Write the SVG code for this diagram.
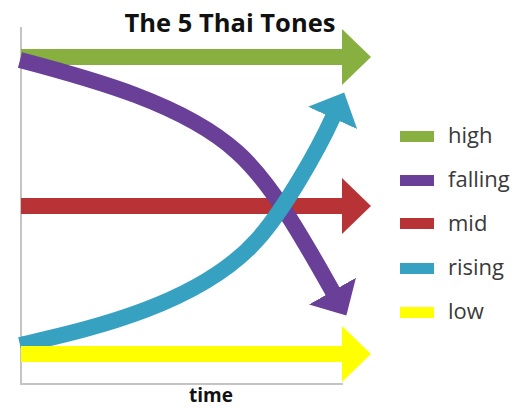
<svg xmlns="http://www.w3.org/2000/svg" width="515" height="408" viewBox="0 0 515 408">
  <style>
    .axis { stroke: #c4c4c4; stroke-width: 2; fill: none; }
    .tone { fill: none; stroke-width: 16; stroke-linecap: butt; }
    .title { font-family: "Open Sans", "DejaVu Sans", sans-serif; font-weight: bold; font-size: 25.5px; fill: #111; }
    .axlabel { font-family: "Open Sans", "DejaVu Sans", sans-serif; font-weight: bold; font-size: 19px; fill: #111; }
    .legend { font-family: "Open Sans", "DejaVu Sans", sans-serif; font-size: 22px; fill: #3a3a3a; }
    .green { stroke: #87b040; }
    .purple { stroke: #6a3f98; }
    .red { stroke: #b83336; }
    .cyan { stroke: #36a1c0; }
    .yellow { stroke: #ffff00; }
  </style>
  <defs>
    <marker id="hGreen" markerUnits="userSpaceOnUse" markerWidth="30" markerHeight="56" viewBox="0 0 30 56" refX="1" refY="28" orient="auto"><path d="M0,0 L29,28 L0,56 Z" fill="#87b040"/></marker>
    <marker id="hPurple" markerUnits="userSpaceOnUse" markerWidth="30" markerHeight="56" viewBox="0 0 30 56" refX="1" refY="28" orient="auto"><path d="M0,1 L28,28 L0,55 Z" fill="#6a3f98"/></marker>
    <marker id="hRed" markerUnits="userSpaceOnUse" markerWidth="30" markerHeight="56" viewBox="0 0 30 56" refX="1" refY="28" orient="auto"><path d="M0,0 L29,28 L0,56 Z" fill="#b83336"/></marker>
    <marker id="hCyan" markerUnits="userSpaceOnUse" markerWidth="30" markerHeight="56" viewBox="0 0 30 56" refX="1" refY="28" orient="auto"><path d="M0,1 L28,28 L0,55 Z" fill="#36a1c0"/></marker>
    <marker id="hYellow" markerUnits="userSpaceOnUse" markerWidth="30" markerHeight="56" viewBox="0 0 30 56" refX="1" refY="28" orient="auto"><path d="M0,0 L29,28 L0,56 Z" fill="#ffff00"/></marker>
  </defs>

  <g id="title">
    <text class="title" x="230" y="32" text-anchor="middle">The 5 Thai Tones</text>
  </g>

  <g id="axes">
    <path class="axis" d="M21,27 L21,384 L343,384"/>
    <text class="axlabel" x="211" y="402" text-anchor="middle">time</text>
  </g>

  <g id="connectors">
    <path id="mid" class="tone red" d="M21,206 L343,206" marker-end="url(#hRed)"/>
    <path id="high" class="tone green" d="M21,57 L343,57" marker-end="url(#hGreen)"/>
    <path id="falling" class="tone purple" d="M20,60 C92,79 184,104 237,152 C274,185 308,248 333,292" marker-end="url(#hPurple)"/>
    <path id="rising" class="tone cyan" d="M20,345 C80,331 197,307 257,240 C284,210 318,150 333,117" marker-end="url(#hCyan)"/>
    <path id="low" class="tone yellow" d="M21,354 L343,354" marker-end="url(#hYellow)"/>
  </g>

  <g id="legend">
    <g id="legend-high"><rect x="400" y="131" width="34" height="11" fill="#87b040"/><text class="legend" x="448" y="143">high</text></g>
    <g id="legend-falling"><rect x="400" y="175" width="34" height="11" fill="#6a3f98"/><text class="legend" x="448" y="187">falling</text></g>
    <g id="legend-mid"><rect x="400" y="218" width="34" height="11" fill="#b83336"/><text class="legend" x="448" y="231">mid</text></g>
    <g id="legend-rising"><rect x="400" y="263" width="34" height="11" fill="#36a1c0"/><text class="legend" x="448" y="275">rising</text></g>
    <g id="legend-low"><rect x="400" y="307" width="34" height="11" fill="#ffff00"/><text class="legend" x="448" y="319">low</text></g>
  </g>
</svg>
